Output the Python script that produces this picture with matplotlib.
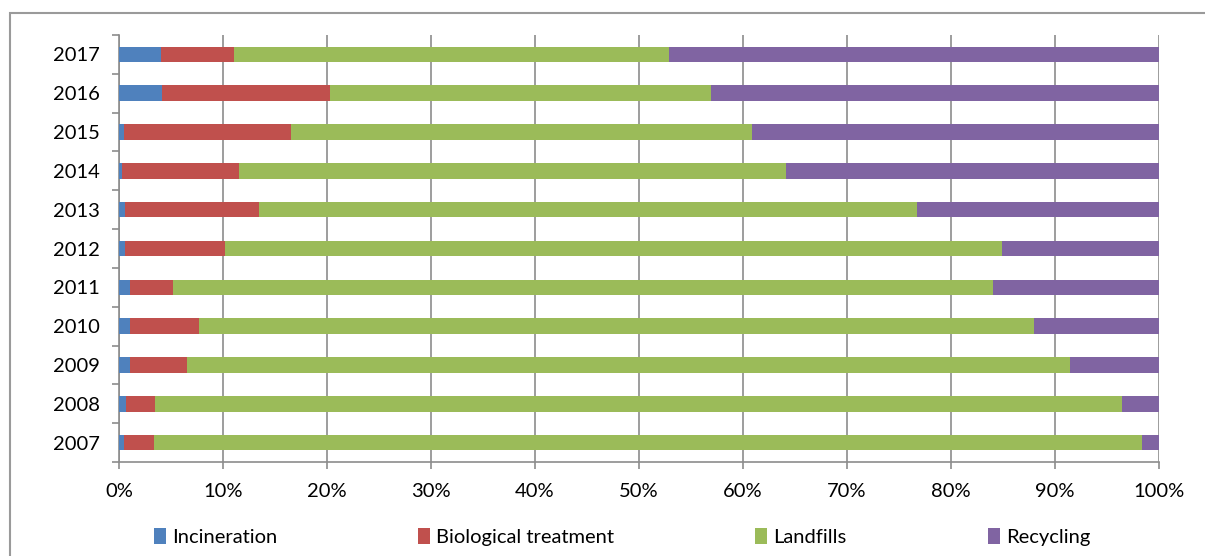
import matplotlib.pyplot as plt
from matplotlib.patches import Rectangle
import numpy as np

plt.rcParams['font.family'] = ['Lato', 'DejaVu Sans']

# share of waste treatment per year, in percent
years = ['2007', '2008', '2009', '2010', '2011', '2012', '2013', '2014', '2015', '2016', '2017']
incineration = [0.45, 0.7, 1.1, 1.1, 1.1, 0.55, 0.55, 0.3, 0.5, 4.1, 4.0]
biological = [2.95, 2.8, 5.4, 6.6, 4.1, 9.65, 12.95, 11.2, 16.0, 16.2, 7.1]
landfills = [95.0, 92.9, 84.9, 80.3, 78.8, 74.7, 63.2, 52.6, 44.4, 36.6, 41.8]
recycling = [1.6, 3.6, 8.6, 12.0, 16.0, 15.1, 23.3, 35.9, 39.1, 43.1, 47.1]

series = [('Incineration', incineration, '#4F81BD'),
          ('Biological treatment', biological, '#C0504D'),
          ('Landfills', landfills, '#9BBB59'),
          ('Recycling', recycling, '#8064A2')]

fig = plt.figure(figsize=(12.05, 5.56), dpi=100)
ax = fig.add_axes([119 / 1205, 1 - 462 / 556, 1040 / 1205, 427 / 556])

# outer chart border (only top/left visible in the crop)
fig.patches.append(Rectangle((10 / 1205, -0.1), 1.2, 1 - 13 / 556 + 0.1,
                             transform=fig.transFigure, fill=False,
                             edgecolor='#9a9a9a', linewidth=1.5))

y = np.arange(len(years))
left = np.zeros(len(years))
for name, vals, color in series:
    ax.barh(y, vals, left=left, height=0.4, color=color, label=name, zorder=3)
    left = left + np.array(vals)

ax.set_xlim(0, 100)
ax.set_ylim(-0.5, len(years) - 0.5)
ax.set_xticks(np.arange(0, 101, 10))
ax.set_xticklabels([f'{v}%' for v in range(0, 101, 10)])
ax.set_yticks(y)
ax.set_yticklabels(years)
ax.set_yticks(np.arange(-0.5, len(years), 1), minor=True)

ax.grid(axis='x', color='#8c8c8c', linewidth=1.2, zorder=0)
for s in ['top', 'right']:
    ax.spines[s].set_visible(False)
for s in ['left', 'bottom']:
    ax.spines[s].set_color('#8c8c8c')
    ax.spines[s].set_linewidth(1.2)

ax.tick_params(axis='y', which='major', length=0, pad=14, labelsize=14.5)
ax.tick_params(axis='y', which='minor', length=5, color='#8c8c8c', width=1.2)
ax.tick_params(axis='x', length=5, color='#8c8c8c', width=1.2, pad=10, labelsize=14.5)

ax.legend(loc='center', bbox_to_anchor=(622 / 1205, 1 - 537 / 556),
          bbox_transform=fig.transFigure, ncol=4, frameon=False,
          fontsize=14.5, handlelength=0.6, handleheight=0.8, handletextpad=0.3,
          columnspacing=7.0, borderpad=0)

fig.savefig('out.png', dpi=100)
